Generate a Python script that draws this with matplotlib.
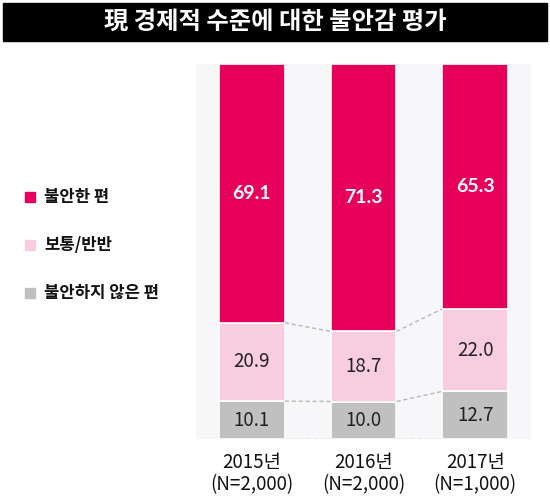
import matplotlib
matplotlib.use("Agg")
import matplotlib.pyplot as plt
import numpy as np
from matplotlib.patches import Rectangle

plt.rcParams['font.family'] = ['Noto Sans CJK KR', 'DejaVu Sans']

# data
years = ['2015년\n(N=2,000)', '2016년\n(N=2,000)', '2017년\n(N=1,000)']
series_names = ['불안한 편', '보통/반반', '불안하지 않은 편']
unsafe = [69.1, 71.3, 65.3]
normal = [20.9, 18.7, 22.0]
safe = [10.1, 10.0, 12.7]

colors = ['#e6005c', '#f9cde0', '#c0c0c0']

W, H = 550, 498
fig = plt.figure(figsize=(W / 100, H / 100), dpi=100)

# title bar
fig.patches.append(Rectangle((3 / W, 1 - 41 / H), 544 / W, 38 / H,
                             transform=fig.transFigure, color='black'))
fig.text(0.5, 1 - 22 / H, '現 경제적 수준에 대한 불안감 평가', color='white',
         ha='center', va='center', fontsize=17.5, fontweight='bold')

ax = fig.add_axes([196 / W, 59 / H, 335 / W, 375 / H])
ax.set_facecolor('#f7f7f9')
for s in ax.spines.values():
    s.set_visible(False)

x = np.arange(len(years))
bw = 0.59
segs = [safe, normal, unsafe]
seg_colors = [colors[2], colors[1], colors[0]]
bottom = np.zeros(len(years))
for vals, c in zip(segs, seg_colors):
    vals = np.array(vals)
    ax.bar(x, vals, bw, bottom=bottom, color=c, edgecolor='white', linewidth=1.2)
    for xi, b, v in zip(x, bottom, vals):
        if c == colors[0]:
            ax.text(xi, b + v / 2, f'{v:.1f}', ha='center', va='center',
                    color='white', fontsize=14, fontweight='bold', family='Lato')
        else:
            ax.text(xi, b + v / 2, f'{v:.1f}', ha='center', va='center',
                    color='#222222', fontsize=13.5)
    bottom = bottom + vals

# dashed connectors
levels = [np.zeros(len(years)), np.array(safe), np.array(safe) + np.array(normal)]
for lv in levels:
    for i in range(len(years) - 1):
        ax.plot([x[i] + bw / 2, x[i + 1] - bw / 2], [lv[i], lv[i + 1]],
                ls=(0, (3, 2)), color='#b8b8b8', lw=1)

ax.set_xlim(-0.5, 2.5)
ax.set_ylim(0, 100)
ax.set_yticks([])
ax.set_xticks(x)
ax.set_xticklabels(years, fontsize=13.5, color='#111111', linespacing=1.1)
ax.tick_params(axis='x', length=0, pad=9)

# legend on the left
leg_y = [197, 245, 293]
for name, c, yy in zip(series_names, colors, leg_y):
    fig.patches.append(Rectangle((25 / W, 1 - (yy + 5) / H), 10 / W, 10 / H,
                                 transform=fig.transFigure, color=c))
    fig.text(44 / W, 1 - yy / H, name, ha='left', va='center', fontsize=12,
             fontweight='bold', color='#111111')

fig.savefig('out.png', dpi=100)
